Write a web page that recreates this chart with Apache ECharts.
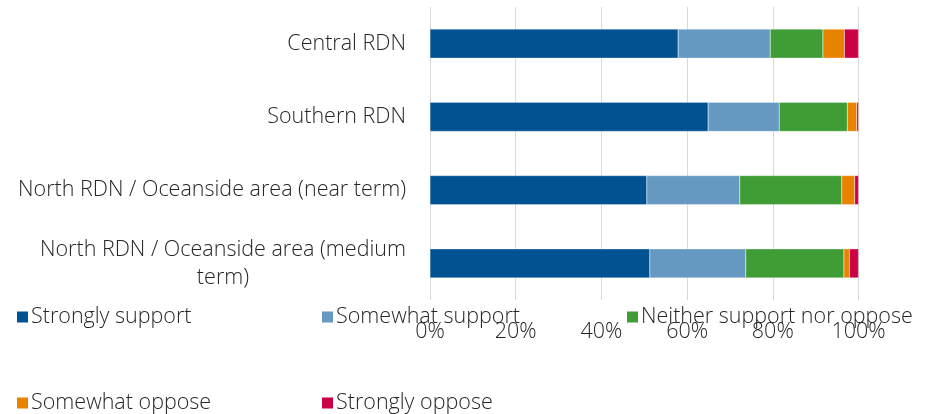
<!DOCTYPE html>
<html>
<head>
<meta charset="utf-8">
<script src="https://cdn.jsdelivr.net/npm/echarts@6/dist/echarts.min.js"></script>
<style>
  html, body { margin: 0; padding: 0; background: #fff; }
  #chart { width: 929px; height: 414px; }
</style>
</head>
<body>
<div id="chart"></div>
<script>
const categories = [
  "Central RDN",
  "Southern RDN",
  "North RDN / Oceanside area (near term)",
  "North RDN / Oceanside area (medium\nterm)"
];
const seriesNames = [
  "Strongly support",
  "Somewhat support",
  "Neither support nor oppose",
  "Somewhat oppose",
  "Strongly oppose"
];
const stronglySupport = [57.9, 64.9, 50.6, 51.3];
const somewhatSupport = [21.5, 16.6, 21.7, 22.4];
const neither = [12.3, 15.9, 23.8, 22.9];
const somewhatOppose = [5.0, 2.2, 3.0, 1.3];
const stronglyOppose = [3.3, 0.4, 0.9, 2.1];
const tickLabels = ["0%", "20%", "40%", "60%", "80%", "100%"];

const colors = ["#005293", "#6699c2", "#409c34", "#e88300", "#cc0044"];
const values = [stronglySupport, somewhatSupport, neither, somewhatOppose, stronglyOppose];
const font = "'Open Sans', sans-serif";
const textColor = "#262626";
const fs = 21.5;

const chart = echarts.init(document.getElementById("chart"));

// one legend per item so each can sit where the original put it
const legendPos = [[15, 306], [320, 306], [625, 306], [15, 392], [320, 392]];
const legends = seriesNames.map((name, i) => ({
  data: [name],
  left: legendPos[i][0],
  top: legendPos[i][1],
  padding: 0,
  icon: "rect",
  itemWidth: 13,
  itemHeight: 13,
  itemGap: 0,
  textStyle: { fontFamily: font, fontWeight: 300, fontSize: fs, color: textColor, padding: [0, 0, 0, -3] }
}));

chart.setOption({
  animation: false,
  backgroundColor: "#fff",
  color: colors,
  legend: legends,
  grid: { left: 430, right: 70.5, top: 7, bottom: 114 },
  xAxis: {
    type: "value",
    min: 0,
    max: 100,
    interval: 20,
    axisLine: { show: false },
    axisTick: { show: false },
    splitLine: { lineStyle: { color: "#d9d9d9", width: 1 } },
    axisLabel: {
      margin: 21,
      fontFamily: font,
      fontWeight: 300,
      fontSize: fs,
      color: textColor,
      formatter: (v) => tickLabels[v / 20]
    }
  },
  yAxis: {
    type: "category",
    inverse: true,
    data: categories,
    axisLine: { show: false },
    axisTick: { show: false },
    axisLabel: {
      margin: 24,
      fontFamily: font,
      fontWeight: 300,
      fontSize: fs,
      color: textColor,
      lineHeight: 28,
      formatter: (v) => v.split("\n").map((l) => "{c|" + l + "}").join("\n"),
      rich: {
        c: { align: "center", fontFamily: font, fontWeight: 300, fontSize: fs, color: textColor, lineHeight: 28 }
      }
    }
  },
  series: seriesNames.map((name, i) => ({
    name: name,
    type: "bar",
    stack: "total",
    barWidth: 29,
    itemStyle: { color: colors[i], borderColor: "#fff", borderWidth: 0.3 },
    data: values[i]
  }))
});
</script>
</body>
</html>
